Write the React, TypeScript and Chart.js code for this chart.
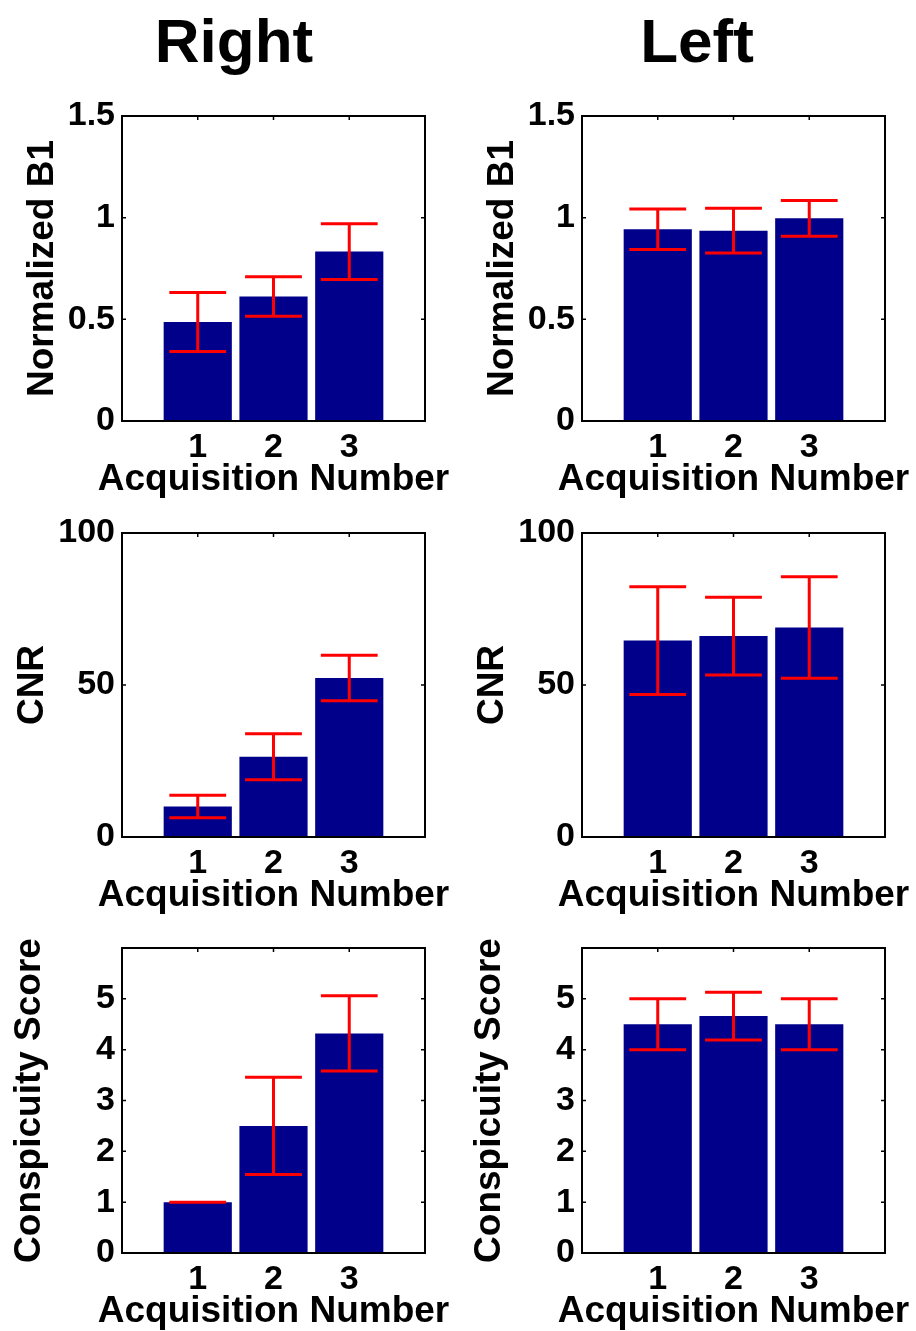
import React, { useEffect, useRef } from "react";
import { Chart, registerables } from "chart.js";

Chart.register(...registerables);

// ---------- data ----------
const ACQUISITIONS = [1, 2, 3];
const X_TICKS = [1, 2, 3];
const X_TICK_LABELS = ["1", "2", "3"];

const B1_TICKS = [0, 0.5, 1, 1.5];
const B1_TICK_LABELS = ["0", "0.5", "1", "1.5"];
const CNR_TICKS = [0, 50, 100];
const CNR_TICK_LABELS = ["0", "50", "100"];
const SCORE_TICKS = [0, 1, 2, 3, 4, 5];
const SCORE_TICK_LABELS = ["0", "1", "2", "3", "4", "5"];

const RIGHT_B1_MEAN = [0.487, 0.612, 0.833];
const RIGHT_B1_ERR = [0.145, 0.097, 0.137];
const LEFT_B1_MEAN = [0.943, 0.936, 0.997];
const LEFT_B1_ERR = [0.1, 0.11, 0.088];

const RIGHT_CNR_MEAN = [10.0, 26.4, 52.3];
const RIGHT_CNR_ERR = [3.7, 7.6, 7.5];
const LEFT_CNR_MEAN = [64.6, 66.1, 68.9];
const LEFT_CNR_ERR = [17.7, 12.8, 16.7];

const RIGHT_SCORE_MEAN = [1.0, 2.5, 4.32];
const RIGHT_SCORE_ERR = [0, 0.955, 0.74];
const LEFT_SCORE_MEAN = [4.5, 4.66, 4.5];
const LEFT_SCORE_ERR = [0.5, 0.47, 0.5];

const COLUMN_TITLES = ["Right", "Left"];
const X_TITLE = "Acquisition Number";

// ---------- style ----------
const FONT = "'Liberation Sans', Arial, Helvetica, sans-serif";
const BAR_COLOR = "#00008b";
const ERR_COLOR = "#ff0000";
const CAP_HALF = 0.375;

type PanelProps = {
  left: number;
  width: number;
  plotTop: number;
  plotHeight: number;
  yMax: number;
  yTicks: number[];
  yTickLabels: string[];
  yTitle: string;
  yTitleBaseX: number;
  means: number[];
  errs: number[];
};

const AXIS_W = 122;
const PLOT_W = 303;
const TOP_PAD = 30;
const X_AXIS_H = 78;
const X_TITLE_BASE = 69;

function Panel(p: PanelProps) {
  const ref = useRef<HTMLCanvasElement | null>(null);
  const height = TOP_PAD + p.plotHeight + X_AXIS_H;

  useEffect(() => {
    if (!ref.current) return;
    const tickFont = { family: FONT, size: 34, weight: "bold" as const, lineHeight: 1 };

    const boxPlugin = {
      id: "matlabBox",
      beforeDatasetsDraw(chart: any) {
        const { ctx, chartArea: a, scales } = chart;
        const x = scales.x;
        const y = scales.y;
        ctx.save();
        ctx.strokeStyle = "#000";
        ctx.lineWidth = 1.5;
        ctx.beginPath();
        const tl = 4;
        p.yTicks.forEach((v) => {
          const py = y.getPixelForValue(v);
          ctx.moveTo(a.left, py);
          ctx.lineTo(a.left + tl, py);
          ctx.moveTo(a.right, py);
          ctx.lineTo(a.right - tl, py);
        });
        X_TICKS.forEach((v) => {
          const px = x.getPixelForValue(v);
          ctx.moveTo(px, a.top);
          ctx.lineTo(px, a.top + tl);
          ctx.moveTo(px, a.bottom);
          ctx.lineTo(px, a.bottom - tl);
        });
        ctx.stroke();
        ctx.restore();
      },
      afterDatasetsDraw(chart: any) {
        const { ctx, chartArea: a } = chart;
        ctx.save();
        ctx.strokeStyle = "#000";
        ctx.lineWidth = 2;
        ctx.strokeRect(a.left, a.top, a.right - a.left, a.bottom - a.top);
        ctx.restore();
      },
      afterDraw(chart: any) {
        const { ctx, chartArea: a } = chart;
        ctx.save();
        ctx.fillStyle = "#000";
        ctx.font = `bold 37px ${FONT}`;
        ctx.textBaseline = "alphabetic";
        ctx.textAlign = "center";
        ctx.fillText(X_TITLE, (a.left + a.right) / 2, a.bottom + X_TITLE_BASE);
        ctx.translate(p.yTitleBaseX, (a.top + a.bottom) / 2);
        ctx.rotate(-Math.PI / 2);
        ctx.fillText(p.yTitle, 0, 0);
        ctx.restore();
      },
    };

    const errorBarPlugin = {
      id: "errorBars",
      afterDatasetsDraw(chart: any) {
        const { ctx, scales } = chart;
        const x = scales.x;
        const y = scales.y;
        ctx.save();
        ctx.strokeStyle = ERR_COLOR;
        ctx.lineWidth = 3;
        ctx.beginPath();
        ACQUISITIONS.forEach((a, i) => {
          const px = x.getPixelForValue(a);
          const half = x.getPixelForValue(a + CAP_HALF) - px;
          const yt = y.getPixelForValue(p.means[i] + p.errs[i]);
          const yb = y.getPixelForValue(p.means[i] - p.errs[i]);
          ctx.moveTo(px, yt);
          ctx.lineTo(px, yb);
          ctx.moveTo(px - half, yt);
          ctx.lineTo(px + half, yt);
          ctx.moveTo(px - half, yb);
          ctx.lineTo(px + half, yb);
        });
        ctx.stroke();
        ctx.restore();
      },
    };

    const chart = new Chart(ref.current, {
      type: "bar",
      data: {
        datasets: [
          {
            data: ACQUISITIONS.map((a, i) => ({ x: a, y: p.means[i] })),
            backgroundColor: BAR_COLOR,
            borderWidth: 0,
            barPercentage: 0.9,
            categoryPercentage: 1,
          },
        ],
      },
      options: {
        animation: false,
        responsive: false,
        maintainAspectRatio: false,
        layout: { padding: { left: 0, top: TOP_PAD, bottom: 0, right: p.width - AXIS_W - PLOT_W } },
        plugins: { legend: { display: false }, tooltip: { enabled: false } },
        scales: {
          x: {
            type: "linear",
            min: 0,
            max: 4,
            offset: false,
            grid: { display: false, drawTicks: false, offset: false },
            border: { display: false },
            afterBuildTicks: (s: any) => {
              s.ticks = X_TICKS.map((v) => ({ value: v }));
            },
            ticks: {
              autoSkip: false,
              maxRotation: 0,
              padding: 10,
              color: "#000",
              font: tickFont,
              callback: (v: any) => {
                const i = X_TICKS.indexOf(Number(v));
                return i >= 0 ? X_TICK_LABELS[i] : "";
              },
            },
            title: { display: false },
            afterFit: (s: any) => {
              s.height = X_AXIS_H;
            },
          },
          y: {
            type: "linear",
            min: 0,
            max: p.yMax,
            grid: { display: false, drawTicks: false },
            border: { display: false },
            afterBuildTicks: (s: any) => {
              s.ticks = p.yTicks.map((v) => ({ value: v }));
            },
            ticks: {
              autoSkip: false,
              padding: 7,
              color: "#000",
              font: tickFont,
              callback: (v: any) => {
                const i = p.yTicks.indexOf(Number(v));
                return i >= 0 ? p.yTickLabels[i] : "";
              },
            },
            title: { display: false },
            afterFit: (s: any) => {
              s.width = AXIS_W;
            },
          },
        },
      } as any,
      plugins: [boxPlugin, errorBarPlugin],
    });
    return () => chart.destroy();
  }, []);

  return (
    <canvas
      ref={ref}
      width={p.width}
      height={height}
      style={{ position: "absolute", left: p.left, top: p.plotTop - TOP_PAD, width: p.width, height }}
    />
  );
}

const COL_LEFT = [0, 460];
const COL_WIDTH = [458, 456];
const ROW_TOP = [116, 533, 948];
const ROW_HEIGHT = [305, 304, 305];
const TITLE_CENTER = [234, 697];

export default function App() {
  const rows = [
    {
      yMax: 1.5, yTicks: B1_TICKS, yTickLabels: B1_TICK_LABELS, yTitle: "Normalized B1", baseX: 53,
      data: [[RIGHT_B1_MEAN, RIGHT_B1_ERR], [LEFT_B1_MEAN, LEFT_B1_ERR]],
    },
    {
      yMax: 100, yTicks: CNR_TICKS, yTickLabels: CNR_TICK_LABELS, yTitle: "CNR", baseX: 43,
      data: [[RIGHT_CNR_MEAN, RIGHT_CNR_ERR], [LEFT_CNR_MEAN, LEFT_CNR_ERR]],
    },
    {
      yMax: 6, yTicks: SCORE_TICKS, yTickLabels: SCORE_TICK_LABELS, yTitle: "Conspicuity Score", baseX: 40,
      data: [[RIGHT_SCORE_MEAN, RIGHT_SCORE_ERR], [LEFT_SCORE_MEAN, LEFT_SCORE_ERR]],
    },
  ];
  return (
    <div style={{ position: "absolute", left: 0, top: 0, width: 916, height: 1331, background: "#fff", overflow: "hidden" }}>
      {COLUMN_TITLES.map((t, i) => (
        <div
          key={t}
          style={{
            position: "absolute",
            left: TITLE_CENTER[i] - 150,
            top: 10,
            width: 300,
            textAlign: "center",
            fontFamily: FONT,
            fontWeight: "bold",
            fontSize: 62,
            lineHeight: "62px",
            color: "#000",
          }}
        >
          {t}
        </div>
      ))}
      {rows.map((r, ri) =>
        [0, 1].map((ci) => (
          <Panel
            key={`${ri}-${ci}`}
            left={COL_LEFT[ci]}
            width={COL_WIDTH[ci]}
            plotTop={ROW_TOP[ri]}
            plotHeight={ROW_HEIGHT[ri]}
            yMax={r.yMax}
            yTicks={r.yTicks}
            yTickLabels={r.yTickLabels}
            yTitle={r.yTitle}
            yTitleBaseX={r.baseX}
            means={r.data[ci][0]}
            errs={r.data[ci][1]}
          />
        ))
      )}
    </div>
  );
}
